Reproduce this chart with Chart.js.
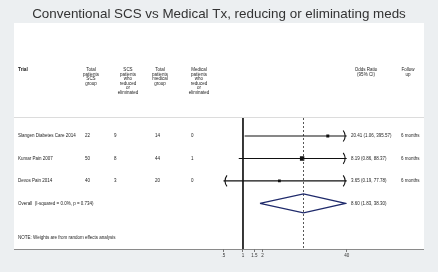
<!DOCTYPE html>
<html>
<head>
<meta charset="utf-8">
<script src="https://cdn.jsdelivr.net/npm/chart.js@4.4.1/dist/chart.umd.min.js"></script>
<style>
  body { margin: 0; background: #eceff1; }
  #forest { display: block; }
</style>
</head>
<body>
<canvas id="forest" width="438" height="272"></canvas>
<script>
// data
const trials = ['Slangen Diabetes Care 2014', 'Kumar Pain 2007', 'Devos Pain 2014']
const scsTotal = [22, 50, 40]
const scsReduced = [9, 8, 3]
const medTotal = [14, 44, 20]
const medReduced = [0, 1, 0]
const orEst = [20.41, 8.19, 3.65]
const orLow = [1.06, 0.86, 0.19]
const orHigh = [395.57, 88.37, 77.78]
const followUp = ['6 months', '6 months', '6 months']
const overallOR = [8.60, 1.83, 38.30] // estimate, low, high
const overallLabel = 'Overall  (I-squared = 0.0%, p = 0.734)'
const xTicks = [0.5, 1, 1.5, 2, 40]
const xTickLabels = ['.5', '1', '1.5', '2', '40']

const FONT = '"Liberation Sans", Arial, sans-serif'
const Y_MIN = -0.8, Y_MAX = 5.03
const fmt = v => v.toFixed(2)

const ciSets = trials.map((t, i) => ({
  type: 'line',
  data: [{ x: orLow[i], y: i }, { x: orHigh[i], y: i }],
  borderColor: '#111',
  borderWidth: 1.1,
  pointRadius: 0
}))

const ovRow = trials.length
const diamond = {
  type: 'line',
  data: [
    { x: overallOR[1], y: ovRow },
    { x: overallOR[0], y: ovRow - 0.42 },
    { x: overallOR[2], y: ovRow },
    { x: overallOR[0], y: ovRow + 0.42 },
    { x: overallOR[1], y: ovRow }
  ],
  borderColor: '#1f2a6b',
  borderWidth: 1.2,
  pointRadius: 0,
  tension: 0
}

const nullLine = {
  type: 'line',
  data: [{ x: 1, y: Y_MIN }, { x: 1, y: Y_MAX }],
  borderColor: '#111',
  borderWidth: 0.9,
  pointRadius: 0
}

const overallLine = {
  type: 'line',
  data: [{ x: overallOR[0], y: Y_MIN }, { x: overallOR[0], y: Y_MAX }],
  borderColor: '#444',
  borderWidth: 0.9,
  borderDash: [2, 2],
  pointRadius: 0
}

const points = {
  type: 'scatter',
  data: trials.map((t, i) => ({ x: orEst[i], y: i })),
  pointStyle: 'rect',
  pointRadius: [2.1, 3.1, 2.0],
  backgroundColor: '#111',
  borderColor: '#111',
  borderWidth: 0
}

function arrow(ctx, x, y, dir) {
  ctx.beginPath()
  ctx.moveTo(x - dir * 2.5, y - 5.5)
  ctx.quadraticCurveTo(x + dir * 1.5, y, x - dir * 2.5, y + 5.5)
  ctx.stroke()
}

const decor = {
  id: 'decor',
  beforeDraw(chart) {
    const ctx = chart.ctx
    ctx.save()
    ctx.fillStyle = '#eceff1'
    ctx.fillRect(0, 0, chart.width, chart.height)
    ctx.fillStyle = '#ffffff'
    ctx.fillRect(14, 23, 410, 226)
    ctx.fillStyle = '#333'
    ctx.font = '13.4px ' + FONT
    ctx.textAlign = 'center'
    ctx.textBaseline = 'middle'
    ctx.fillText('Conventional SCS vs Medical Tx, reducing or eliminating meds', 219, 14)
    ctx.strokeStyle = '#dcdcdc'
    ctx.lineWidth = 1
    ctx.beginPath(); ctx.moveTo(14, 117.5); ctx.lineTo(424, 117.5); ctx.stroke()
    ctx.strokeStyle = '#8a8a8a'
    ctx.beginPath(); ctx.moveTo(14, 249.5); ctx.lineTo(424, 249.5); ctx.stroke()
    ctx.restore()
  },
  afterDraw(chart) {
    const ctx = chart.ctx
    const ys = chart.scales.y
    const area = chart.chartArea
    ctx.save()
    ctx.fillStyle = '#222'
    ctx.textBaseline = 'middle'

    // header
    ctx.font = 'bold 4.8px ' + FONT
    ctx.textAlign = 'left'
    ctx.fillText('Trial', 18, 70)
    ctx.font = '4.5px ' + FONT
    ctx.textAlign = 'center'
    const heads = [
      [91, ['Total', 'patients', 'SCS', 'group']],
      [128, ['SCS', 'patients', 'who', 'reduced', 'or', 'eliminated']],
      [160, ['Total', 'patients', 'medical', 'group']],
      [199, ['Medical', 'patients', 'who', 'reduced', 'or', 'eliminated']],
      [366, ['Odds Ratio', '(95% CI)']],
      [408, ['Follow', 'up']]
    ]
    heads.forEach(([x, lines]) => lines.forEach((l, k) => ctx.fillText(l, x, 70 + k * 4.55)))

    // rows
    ctx.textAlign = 'left'
    trials.forEach((t, i) => {
      const y = ys.getPixelForValue(i)
      ctx.fillText(t, 18, y)
      ctx.fillText(String(scsTotal[i]), 85, y)
      ctx.fillText(String(scsReduced[i]), 114, y)
      ctx.fillText(String(medTotal[i]), 155, y)
      ctx.fillText(String(medReduced[i]), 191, y)
      ctx.fillText(fmt(orEst[i]) + ' (' + fmt(orLow[i]) + ', ' + fmt(orHigh[i]) + ')', 351, y)
      ctx.fillText(followUp[i], 401, y)
    })
    const yo = ys.getPixelForValue(ovRow)
    ctx.fillText(overallLabel, 18, yo)
    ctx.fillText(fmt(overallOR[0]) + ' (' + fmt(overallOR[1]) + ', ' + fmt(overallOR[2]) + ')', 351, yo)
    ctx.fillText('NOTE: Weights are from random effects analysis', 18, ys.getPixelForValue(4.54))

    // arrows for CIs running off the axis
    ctx.strokeStyle = '#111'
    ctx.lineWidth = 1.1
    const xs = chart.scales.x
    trials.forEach((t, i) => {
      const y = ys.getPixelForValue(i)
      if (orHigh[i] > xs.max) arrow(ctx, area.right - 1, y, 1)
      if (orLow[i] < xs.min) arrow(ctx, area.left + 1, y, -1)
    })
    ctx.restore()
  }
}

new Chart(document.getElementById('forest'), {
  type: 'scatter',
  data: { datasets: [...ciSets, diamond, nullLine, overallLine, points] },
  options: {
    responsive: false,
    animation: false,
    devicePixelRatio: 1,
    layout: { padding: { left: 223.5, right: 91.3, top: 118, bottom: 13 } },
    plugins: { legend: { display: false }, tooltip: { enabled: false } },
    scales: {
      x: {
        type: 'logarithmic',
        min: 0.5,
        max: 40,
        afterBuildTicks(scale) { scale.ticks = xTicks.map(v => ({ value: v })) },
        afterFit(scale) { scale.height = 10 },
        ticks: {
          autoSkip: false,
          maxRotation: 0,
          padding: 1,
          color: '#333',
          font: { family: FONT, size: 4.5 },
          callback: v => xTickLabels[xTicks.findIndex(t => Math.abs(t - v) < 1e-6)]
        },
        grid: { drawOnChartArea: false, tickLength: 3, color: '#777' },
        border: { display: false }
      },
      y: { type: 'linear', reverse: true, min: Y_MIN, max: Y_MAX, display: false }
    }
  },
  plugins: [decor]
})
</script>
</body>
</html>
